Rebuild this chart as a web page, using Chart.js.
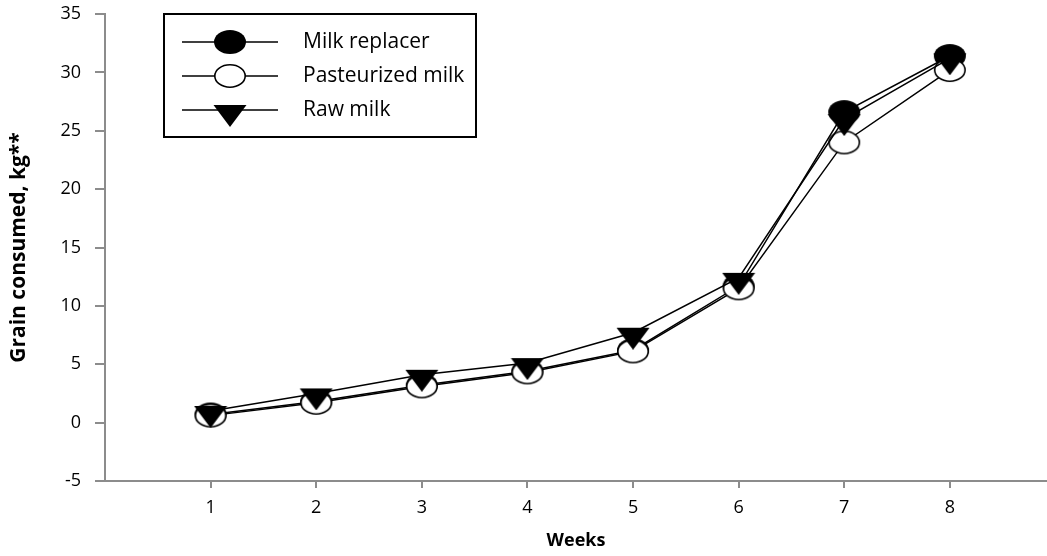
<!DOCTYPE html>
<html>
<head>
<meta charset="utf-8">
<script src="https://cdn.jsdelivr.net/npm/chart.js@4/dist/chart.umd.min.js"></script>
<style>
html,body{margin:0;padding:0;background:#fff;}
#wrap{width:1047px;height:556px;position:relative;}
</style>
</head>
<body>
<div id="wrap"><canvas id="c" width="1047" height="556"></canvas></div>
<script>
const weeks = [1, 2, 3, 4, 5, 6, 7, 8];
const milkReplacer = [0.7, 1.8, 3.2, 4.4, 6.2, 11.7, 26.6, 31.4];
const pasteurizedMilk = [0.6, 1.7, 3.1, 4.3, 6.1, 11.5, 24.0, 30.2];
const rawMilk = [1.0, 2.5, 4.1, 5.1, 7.7, 12.4, 26.0, 31.2];
const seriesLabels = ['Milk replacer', 'Pasteurized milk', 'Raw milk'];
const xTitle = 'Weeks';
const yTitle = 'Grain consumed, kg**';

function makeEllipse(fill) {
  const c = document.createElement('canvas');
  c.width = 34; c.height = 26;
  const g = c.getContext('2d');
  g.beginPath();
  g.ellipse(17, 13, fill ? 16 : 15.2, fill ? 12 : 11.2, 0, 0, Math.PI * 2);
  g.fillStyle = fill ? '#000' : '#fff';
  g.fill();
  if (!fill) { g.lineWidth = 1.6; g.strokeStyle = '#000'; g.stroke(); }
  return c;
}
function makeTriangle() {
  const c = document.createElement('canvas');
  c.width = 34; c.height = 34;
  const g = c.getContext('2d');
  g.beginPath();
  g.moveTo(0.5, 12); g.lineTo(33.5, 12); g.lineTo(17, 34); g.closePath();
  g.fillStyle = '#000'; g.fill();
  return c;
}
const styles = [makeEllipse(true), makeEllipse(false), makeTriangle()];
const values = [milkReplacer, pasteurizedMilk, rawMilk];

const datasets = seriesLabels.map((lab, i) => ({
  label: lab,
  data: weeks.map((w, j) => ({x: w, y: values[i][j]})),
  borderColor: '#000',
  borderWidth: 1.5,
  pointStyle: styles[i],
  pointRadius: 16,
  pointHoverRadius: 16,
  fill: false,
  tension: 0,
  order: 3 - i
}));

const legendPlugin = {
  id: 'boxLegend',
  afterDraw(chart) {
    const ctx = chart.ctx;
    ctx.save();
    ctx.strokeStyle = '#000';
    ctx.lineWidth = 2;
    ctx.strokeRect(164, 14, 312, 123);
    const rows = [42, 76, 110];
    chart.data.datasets.forEach((ds, i) => {
      const y = rows[i];
      ctx.beginPath();
      ctx.moveTo(182, y); ctx.lineTo(278, y);
      ctx.lineWidth = 1.5; ctx.strokeStyle = '#000'; ctx.stroke();
      const s = ds.pointStyle;
      ctx.drawImage(s, 230 - s.width / 2, y - s.height / 2);
      ctx.fillStyle = '#000';
      ctx.font = '21px "Open Sans"';
      ctx.textBaseline = 'middle';
      ctx.textAlign = 'left';
      ctx.fillText(ds.label, 303, y);
    });
    ctx.restore();
  }
};

new Chart(document.getElementById('c'), {
  type: 'line',
  data: { datasets },
  plugins: [legendPlugin],
  options: {
    responsive: false,
    animation: false,
    devicePixelRatio: 1,
    clip: false,
    layout: { autoPadding: false, padding: { top: 14, right: 0, left: 0, bottom: 0 } },
    plugins: { legend: { display: false }, tooltip: { enabled: false } },
    scales: {
      x: {
        type: 'linear',
        min: 0,
        max: 8.92,
        afterBuildTicks(scale) { scale.ticks = weeks.map(v => ({value: v})); },
        afterFit(scale) { scale.height = 75; scale.paddingLeft = 0; scale.paddingRight = 0; },
        grid: { drawOnChartArea: false, drawTicks: true, tickLength: 7, color: '#8c8c8c', lineWidth: 2 },
        border: { display: true, color: '#8c8c8c', width: 2 },
        ticks: { color: '#000', font: { family: 'Open Sans', size: 18 }, padding: 9, maxRotation: 0 },
        title: { display: true, text: xTitle, color: '#000', font: { family: 'Open Sans', size: 18, weight: 'bold' }, padding: { top: 0, bottom: 4 } }
      },
      y: {
        min: -5,
        max: 35,
        afterFit(scale) { scale.width = 105; scale.paddingTop = 0; scale.paddingBottom = 0; },
        grid: { drawOnChartArea: false, drawTicks: true, tickLength: 10, color: '#8c8c8c', lineWidth: 2 },
        border: { display: true, color: '#8c8c8c', width: 2 },
        ticks: { stepSize: 5, color: '#000', font: { family: 'Open Sans', size: 18 }, padding: 14 },
        title: { display: true, text: yTitle, color: '#000', font: { family: 'Open Sans', size: 21, weight: 'bold' }, padding: { top: 6, bottom: 0 } }
      }
    }
  }
});
</script>
</body>
</html>
